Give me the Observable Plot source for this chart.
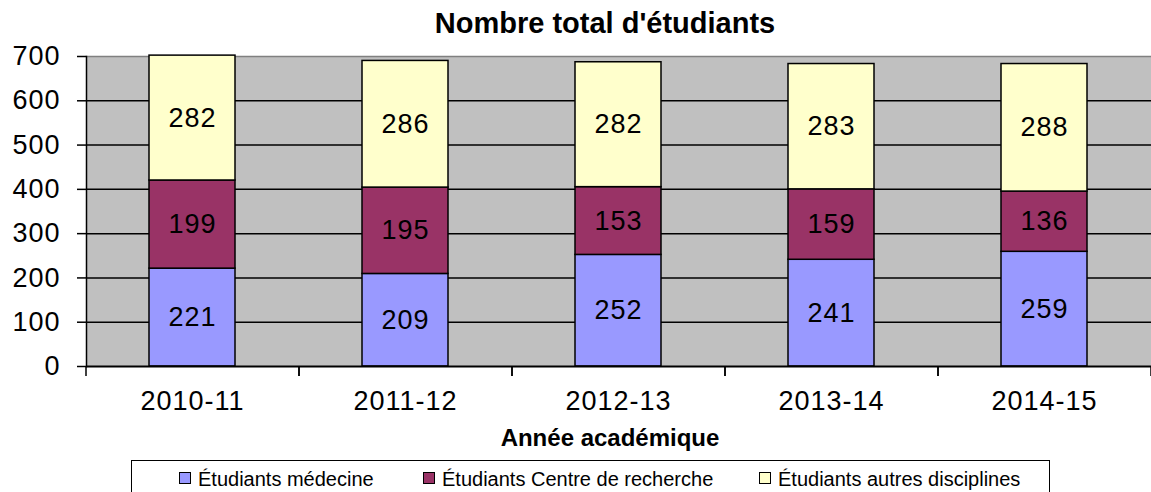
<!DOCTYPE html>
<html><head><meta charset="utf-8">
<script src="https://cdn.jsdelivr.net/npm/d3@7"></script>
<script src="https://cdn.jsdelivr.net/npm/@observablehq/plot@0.6"></script>
<style>
body{margin:0;background:#fff;font-family:"Liberation Sans",Arial,sans-serif;}
#wrap{position:relative;width:1151px;height:492px;overflow:hidden;}
#chart{position:absolute;left:0;top:0;}
#title{position:absolute;left:0;width:1210px;top:9px;text-align:center;font-weight:bold;font-size:29px;line-height:29px;}
#xtitle{position:absolute;left:0;width:1220px;top:426px;text-align:center;font-weight:bold;font-size:24px;line-height:24px;}
#legend{position:absolute;left:131px;top:460px;width:919px;height:40px;border:1.5px solid #000;box-sizing:border-box;}
.item{position:absolute;top:8px;font-size:20px;line-height:20px;white-space:nowrap;}
.sw{position:absolute;left:0;top:3px;width:12px;height:12px;border:1.2px solid #000;box-sizing:border-box;}
.lab{position:absolute;left:19px;top:0;}
</style>
</head><body>
<div id="wrap">
  <div id="chart"></div>
  <div id="title">Nombre total d'étudiants</div>
  <div id="xtitle">Année académique</div>
  <div id="legend"></div>
</div>
<script>
const years = ["2010-11","2011-12","2012-13","2013-14","2014-15"];
const seriesNames = ["Étudiants médecine","Étudiants Centre de recherche","Étudiants autres disciplines"];
const medecine = [221,209,252,241,259];
const centre = [199,195,153,159,136];
const autres = [282,286,282,283,288];
const colors = ["#9999FF","#993366","#FFFFCC"];
const yTicks = [0,100,200,300,400,500,600,700];

const values = [medecine, centre, autres];
const data = [];
years.forEach((yr, i) => {
  seriesNames.forEach((s, j) => data.push({year: yr, series: s, value: values[j][i]}));
});

const W = 1151, H = 492, mL = 86, mR = 0, mT = 56, mB = 126;
const step = (W - mL - mR) / years.length;

const plot = Plot.plot({
  width: W, height: H,
  marginTop: mT, marginBottom: mB, marginLeft: mL, marginRight: mR,
  style: {fontFamily: "Liberation Sans, Arial, sans-serif", background: "transparent", overflow: "visible", color: "#000", letterSpacing: "1px"},
  x: {domain: years, paddingInner: 0.596, paddingOuter: 0.298, axis: null, label: null},
  y: {domain: [0, 700], axis: null, label: null},
  color: {domain: seriesNames, range: colors},
  marks: [
    Plot.frame({fill: "#C0C0C0", stroke: null}),
    Plot.ruleY(yTicks.filter(d => d > 0 && d < 700), {stroke: "#000", strokeWidth: 1.5}),
    Plot.ruleY([700], {stroke: "#808080", strokeWidth: 1.5}),
    Plot.barY(data, {x: "year", y: "value", z: "series", fill: "series", stroke: "#000", strokeWidth: 1.5}),
    Plot.text(data, Plot.stackY({x: "year", y: "value", z: "series", text: d => String(d.value), fill: "#000", fontSize: 27})),
    Plot.ruleY([0], {stroke: "#000", strokeWidth: 2}),
    Plot.frame({anchor: "left", stroke: "#000", strokeWidth: 1.5}),
    Plot.axisY({ticks: yTicks, tickSize: 9, tickPadding: 17, fontSize: 27, stroke: "#000", strokeWidth: 1.5, label: null, tickFormat: d => String(d)}),
    Plot.axisX({tickSize: 0, tickPadding: 24, fontSize: 27, label: null}),
    Plot.ruleX(years, {x: d => d, y1: 0, y2: 0, dx: -step / 2, insetBottom: -10, stroke: "#000", strokeWidth: 1.5}),
    Plot.ruleX(years, {x: d => d, y1: 0, y2: 0, dx: step / 2, insetBottom: -10, stroke: "#000", strokeWidth: 1.5})
  ]
});
document.getElementById("chart").appendChild(plot);

const legendLefts = [47, 291, 627];
const legend = document.getElementById("legend");
seriesNames.forEach((s, i) => {
  const it = document.createElement("div");
  it.className = "item";
  it.style.left = legendLefts[i] + "px";
  const sw = document.createElement("div");
  sw.className = "sw";
  sw.style.background = colors[i];
  const lab = document.createElement("span");
  lab.className = "lab";
  lab.textContent = s;
  it.appendChild(sw); it.appendChild(lab);
  legend.appendChild(it);
});
</script>
</body></html>
